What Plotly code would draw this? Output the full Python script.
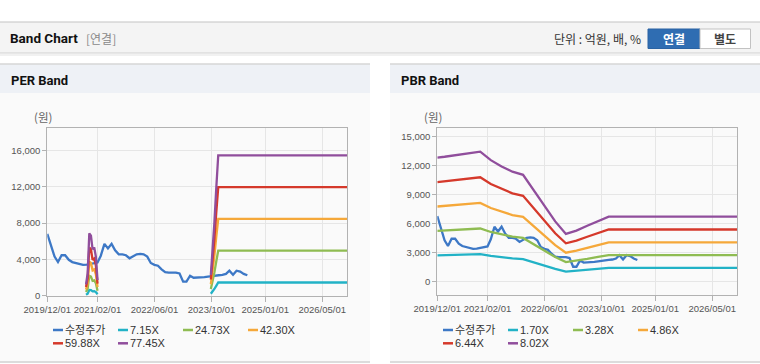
import plotly.graph_objects as go

# ---------------- data ----------------
price_dates = [
    "2019-12-01", "2020-01-01", "2020-02-01", "2020-03-01", "2020-04-01", "2020-05-01",
    "2020-06-01", "2020-07-01", "2020-08-01", "2020-09-01", "2020-10-01", "2020-11-01",
    "2020-12-01", "2021-01-01", "2021-02-01", "2021-03-01", "2021-04-01", "2021-05-01",
    "2021-06-01", "2021-07-01", "2021-08-01", "2021-09-01", "2021-10-01", "2021-11-01",
    "2021-12-01", "2022-01-01", "2022-02-01", "2022-03-01", "2022-04-01", "2022-05-01",
    "2022-06-01", "2022-07-01", "2022-08-01", "2022-09-01", "2022-10-01", "2022-11-01",
    "2022-12-01", "2023-01-01", "2023-02-01", "2023-03-01", "2023-04-01", "2023-05-01",
    "2023-06-01", "2023-07-01", "2023-08-01", "2023-09-01", "2023-10-01", "2023-11-01",
    "2023-12-01", "2024-01-01", "2024-02-01", "2024-03-01", "2024-04-01", "2024-05-01",
    "2024-06-01", "2024-07-01", "2024-08-01",
]
price = [
    6800, 5500, 4300, 3700, 4450, 4450, 3950, 3700, 3600, 3480, 3400, 3420,
    3500, 3550, 3650, 4400, 5700, 5200, 5700, 5000, 4550, 4550, 4450, 4120,
    4300, 4550, 4600, 4550, 4300, 3600, 3400, 3300, 2900, 2600, 2550, 2550,
    2550, 2450, 1550, 1550, 2200, 1980, 1980, 1980, 2050, 2100, 2170, 2200,
    2250, 2300, 2400, 2750, 2300, 2750, 2650, 2400, 2250,
]

per_names = ["7.15X", "24.73X", "42.30X", "59.88X", "77.45X"]
per_dates = [
    "2020-10-26", "2020-11-09", "2020-11-23", "2020-12-07", "2020-12-21",
    "2021-01-04", "2021-01-18", "2021-02-01", "2022-06-01",
    "2023-09-25", "2023-10-10", "2023-10-25", "2023-11-10", "2023-11-27", "2026-12-01",
]
per_715 = [115, 227, 633, 609, 471, 489, 397, 160, None, 212, 443, 740, 1090, 1450, 1450]
per_2473 = [399, 786, 2191, 2107, 1630, 1692, 1373, 552, None, 735, 1530, 2560, 3770, 4950, 4950]
per_4230 = [681, 1345, 3748, 3604, 2788, 2893, 2348, 943, None, 1260, 2620, 4370, 6450, 8450, 8450]
per_5988 = [964, 1904, 5305, 5102, 3946, 4096, 3323, 1335, None, 1780, 3710, 6190, 9120, 11950, 11950]
per_7745 = [1250, 2460, 6860, 6600, 5100, 5300, 4300, 1730, None, 2300, 4800, 8000, 11800, 15450, 15450]

pbr_names = ["1.70X", "3.28X", "4.86X", "6.44X", "8.02X"]
pbr_dates = [
    "2019-12-01", "2020-02-01", "2020-12-01", "2021-03-01", "2021-06-01", "2021-09-01",
    "2021-12-01", "2022-03-01", "2022-06-01", "2022-09-01", "2022-12-01", "2023-03-01",
    "2023-06-01", "2023-09-01", "2023-12-01", "2026-12-01",
]
pbr_170 = [2726, 2745, 2858, 2671, 2533, 2417, 2349, 2003, 1664, 1325, 1049, 1124, 1230, 1336, 1429, 1429]
pbr_328 = [5259, 5296, 5513, 5153, 4887, 4662, 4531, 3865, 3210, 2556, 2024, 2168, 2372, 2577, 2757, 2757]
pbr_486 = [7793, 7848, 8169, 7635, 7242, 6908, 6714, 5727, 4757, 3787, 3000, 3212, 3515, 3818, 4084, 4084]
pbr_644 = [10327, 10399, 10825, 10118, 9596, 9154, 8897, 7588, 6304, 5019, 3975, 4256, 4657, 5059, 5412, 5412]
pbr_802 = [12860, 12950, 13480, 12600, 11950, 11400, 11080, 9450, 7850, 6250, 4950, 5300, 5800, 6300, 6740, 6740]

price_name = "수정주가"
x_tick_vals = ["2019-12-01", "2021-02-01", "2022-06-01", "2023-10-01", "2025-01-01", "2026-05-01"]
x_tick_text = ["2019/12/01", "2021/02/01", "2022/06/01", "2023/10/01", "2025/01/01", "2026/05/01"]
per_y_ticks = [0, 4000, 8000, 12000, 16000]
pbr_y_ticks = [0, 3000, 6000, 9000, 12000, 15000]

# ---------------- styling ----------------
W, H = 760, 364
price_color = "#3d78c6"
band_colors = ["#22b2c6", "#8fbc52", "#f5a83a", "#d5392b", "#904e9c"]
TICK_FONT = dict(family="Liberation Sans, Arial, sans-serif", size=9.5, color="#555555")
KR = "Noto Sans CJK KR, Noto Sans, sans-serif"


def px(x):
    return x / W


def py(y):
    return 1 - y / H


fig = go.Figure()

per_bands = [per_715, per_2473, per_4230, per_5988, per_7745]
pbr_bands = [pbr_170, pbr_328, pbr_486, pbr_644, pbr_802]

# PER chart
fig.add_trace(go.Scatter(x=price_dates, y=price, mode="lines", name=price_name,
                         line=dict(color=price_color, width=2.3), xaxis="x", yaxis="y",
                         showlegend=False))
for name, vals, col in zip(per_names, per_bands, band_colors):
    fig.add_trace(go.Scatter(x=per_dates, y=vals, mode="lines", name=name,
                             line=dict(color=col, width=2.3), connectgaps=False,
                             xaxis="x", yaxis="y", showlegend=False))
# PBR chart
fig.add_trace(go.Scatter(x=price_dates, y=price, mode="lines", name=price_name,
                         line=dict(color=price_color, width=2.3), xaxis="x2", yaxis="y2",
                         showlegend=False))
for name, vals, col in zip(pbr_names, pbr_bands, band_colors):
    fig.add_trace(go.Scatter(x=pbr_dates, y=vals, mode="lines", name=name,
                             line=dict(color=col, width=2.3),
                             xaxis="x2", yaxis="y2", showlegend=False))

shapes = []
annotations = []


def rect(x0, y0, x1, y1, fill, line_color=None, lw=0):
    shapes.append(dict(type="rect", xref="paper", yref="paper",
                       x0=px(x0), x1=px(x1), y0=py(y1), y1=py(y0),
                       fillcolor=fill, line=dict(color=line_color or fill, width=lw),
                       layer="below"))


def hline(x0, x1, y, color, w=1):
    shapes.append(dict(type="line", xref="paper", yref="paper",
                       x0=px(x0), x1=px(x1), y0=py(y), y1=py(y),
                       line=dict(color=color, width=w), layer="below"))


def text(x, y, s, size=12, color="#222", family=KR, xanchor="left", bold=False):
    if bold:
        s = "<b>" + s + "</b>"
    annotations.append(dict(x=px(x), y=py(y), xref="paper", yref="paper", text=s,
                            showarrow=False, xanchor=xanchor, yanchor="middle",
                            font=dict(size=size, color=color, family=family)))


# top header
rect(0, 22, 760, 53, "#f4f4f4")
hline(0, 760, 22, "#c4c4c4", 1.2)
hline(0, 760, 53, "#cfcfcf", 1.2)
hline(0, 760, 55, "#ececec", 1.5)
text(8, 38, "Band Chart", 13.5, "#111", "Roboto, Noto Sans, sans-serif", bold=True)
text(84, 38.5, "[연결]", 12, "#8a8a8a", KR)
text(643, 39, "단위 : 억원, 배, %", 12, "#333", KR, xanchor="right")
# buttons
shapes.append(dict(type="rect", xref="paper", yref="paper", x0=px(648), x1=px(700),
                   y0=py(48.5), y1=py(29), fillcolor="#2f6db2",
                   line=dict(color="#2a63a3", width=1), layer="below"))
shapes.append(dict(type="rect", xref="paper", yref="paper", x0=px(700), x1=px(750.5),
                   y0=py(48.5), y1=py(29), fillcolor="#ffffff",
                   line=dict(color="#c2c2c2", width=1), layer="below"))
text(674, 39, "연결", 12, "#ffffff", KR, xanchor="center", bold=True)
text(725, 39, "별도", 12, "#444444", KR, xanchor="center", bold=True)

# panels
for x0, x1, title in [(0, 370, "PER Band"), (390, 760, "PBR Band")]:
    rect(x0, 93, x1, 361, "#fafafa")
    rect(x0, 64, x1, 93, "#eef1f6")
    hline(x0, x1, 64, "#d6d6d6", 1.5)
    hline(x0, x1, 362, "#dcdcdc", 2)
    text(x0 + 8.5, 80, title, 13, "#111", "Roboto, Noto Sans, sans-serif", bold=True)

# y unit labels
text(42.5, 117, "(원)", 11.5, "#666", KR, xanchor="center")
text(432.5, 117, "(원)", 11.5, "#666", KR, xanchor="center")

# legends (swatch + label)
legend_sets = [
    (0, [price_name] + per_names),
    (390, [price_name] + pbr_names),
]
for off, names in legend_sets:
    cols = [price_color] + band_colors
    for i, (nm, col) in enumerate(zip(names, cols)):
        r, c = divmod(i, 4)
        sx = off + 53 + 65 * c
        sy = 330 + 13.3 * r
        shapes.append(dict(type="line", xref="paper", yref="paper",
                           x0=px(sx), x1=px(sx + 10), y0=py(sy), y1=py(sy),
                           line=dict(color=col, width=2.5)))
        text(sx + 10, sy, nm, 11, "#333",
             "Liberation Sans, Arial, Noto Sans CJK KR, sans-serif")

axis_common = dict(showgrid=True, gridcolor="#e6e6e6", gridwidth=1,
                   showline=True, linecolor="#b2b2b2", linewidth=1, mirror=True,
                   ticks="outside", tickcolor="#b2b2b2", tickfont=TICK_FONT,
                   zeroline=False, fixedrange=True, automargin=False)

fig.update_layout(
    width=W, height=H, margin=dict(l=0, r=0, t=0, b=0, pad=0, autoexpand=False),
    paper_bgcolor="#ffffff", plot_bgcolor="#ffffff",
    showlegend=False,
    shapes=shapes, annotations=annotations,
    xaxis=dict(domain=[px(47.3), px(347.3)], anchor="y", type="date",
               range=["2019-12-01", "2026-12-01"], tickvals=x_tick_vals,
               ticktext=x_tick_text, ticklen=5, tickangle=0, **axis_common),
    yaxis=dict(domain=[py(295.7), py(128.3)], anchor="x", range=[0, 18420],
               tickvals=per_y_ticks, tickformat=",", ticklen=4, **axis_common),
    xaxis2=dict(domain=[px(437.3), px(737.3)], anchor="y2", type="date",
                range=["2019-12-01", "2026-12-01"], tickvals=x_tick_vals,
                ticktext=x_tick_text, ticklen=5, tickangle=0, **axis_common),
    yaxis2=dict(domain=[py(295.0), py(128.3)], anchor="x2", range=[-1380, 15900],
                tickvals=pbr_y_ticks, tickformat=",", ticklen=4, **axis_common),
)

fig.write_html("out.html", config={"displayModeBar": False},
               post_script="document.body.style.margin='0';document.body.style.padding='0';")
